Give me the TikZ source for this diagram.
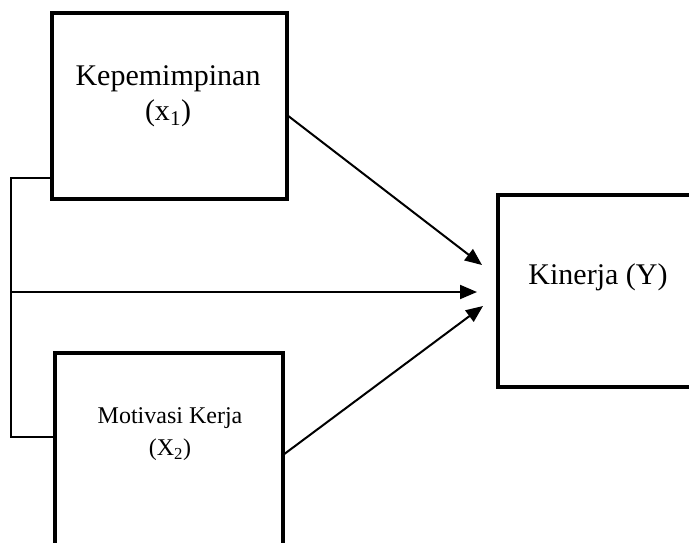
\documentclass[tikz,border=0pt]{standalone}
\usepackage{fontspec}
\setmainfont{Liberation Serif}
\usetikzlibrary{arrows.meta}

\begin{document}
\begin{tikzpicture}[x=1pt,y=-1pt,line width=2pt,
  >={Triangle[length=17pt,width=14pt]},
  box/.style={draw,line width=4.5pt,rectangle,outer sep=0pt,inner sep=0pt},
  big/.style={font=\fontsize{30}{35}\selectfont,align=center},
  small/.style={font=\fontsize{24}{32}\selectfont,align=center}]
  \clip (0,0) rectangle (689,542);
  \node[box,minimum width=235,minimum height=186] (b1) at (169.5,106) {};
  \node[box,minimum width=228,minimum height=220] (b2) at (169,463) {};
  \node[box,minimum width=220,minimum height=192] (b3) at (608,291) {};

  \node[big] (t1) at (168,96) {Kepemimpinan\\(x\textsubscript{1})};
  \node[small] (t2) at (170,434) {Motivasi Kerja\\(X\textsubscript{2})};
  \node[big] (t3) at (598,277) {Kinerja (Y)};

  \coordinate (bt) at (11,178);
  \coordinate (bm) at (11,292);
  \coordinate (bb) at (11,437);
  \coordinate (in1) at (482,265);
  \coordinate (in2) at (477,292);
  \coordinate (in3) at (483,306);

  \draw (bt -| b1.west) -- (bt) -- (bb) -- (bb -| b2.west);
  \draw[->] ([yshift=-9pt]b1.east) -- (in1);
  \draw[->] (bm) -- (in2);
  \draw[->] (b2.east |- 0,455) -- (in3);
\end{tikzpicture}
\end{document}
